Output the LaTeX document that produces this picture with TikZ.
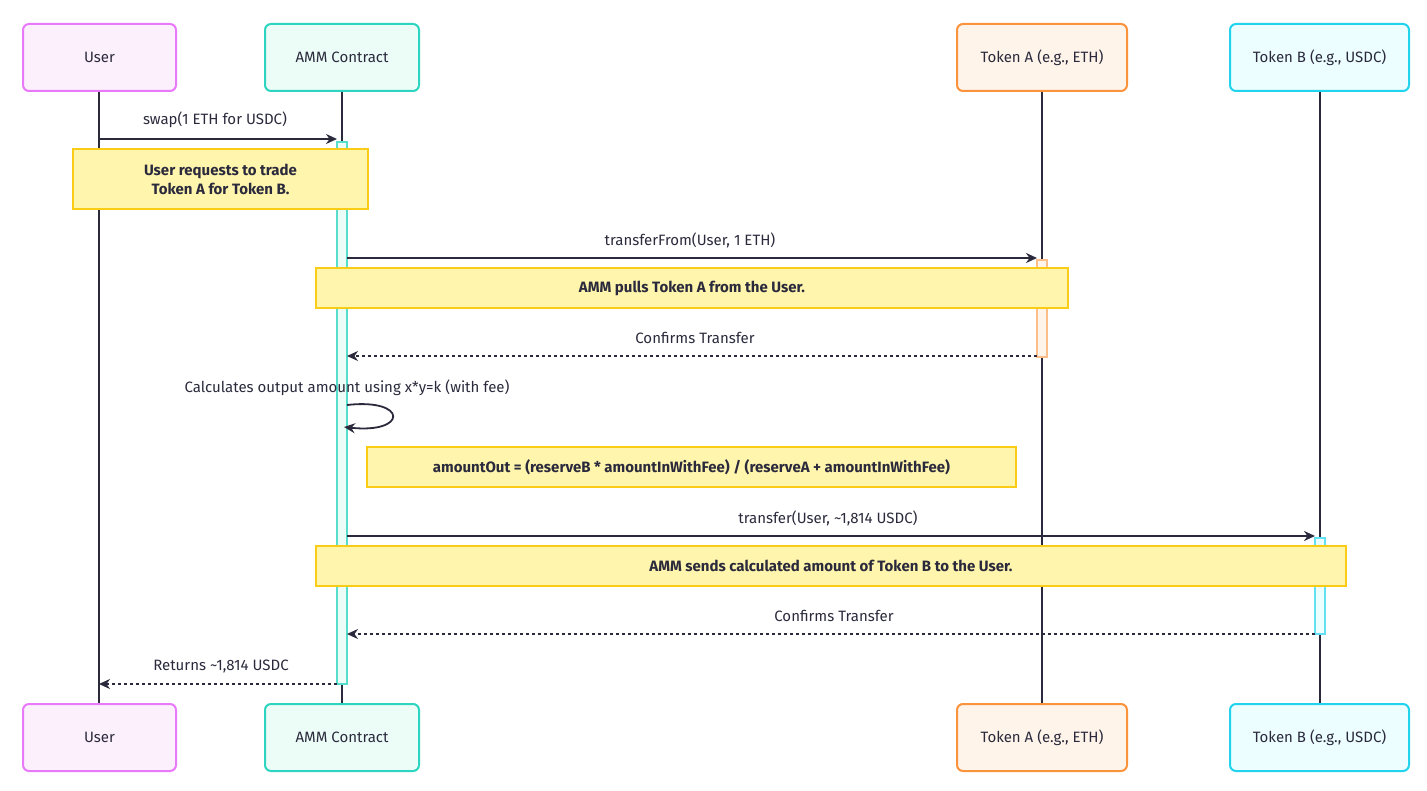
\documentclass[tikz,border=0pt]{standalone}
\usepackage{fontspec}
\setmainfont{Fira Sans}
\usetikzlibrary{arrows.meta,positioning}
\definecolor{userfill}{HTML}{FDF0FD}\definecolor{userdraw}{HTML}{E879F9}
\definecolor{ammfill}{HTML}{ECFDF8}\definecolor{ammdraw}{HTML}{2DD4BF}
\definecolor{tafill}{HTML}{FFF4EA}\definecolor{tadraw}{HTML}{FB923C}
\definecolor{tbfill}{HTML}{ECFEFF}\definecolor{tbdraw}{HTML}{22D3EE}
\definecolor{notefill}{HTML}{FFF5AD}\definecolor{notedraw}{HTML}{FACC15}
\definecolor{ink}{HTML}{2A2A3C}
\begin{document}
\begin{tikzpicture}[
   x=1pt, y=-1pt,
   font=\fontsize{15}{18}\selectfont,
   actor/.style={draw, rounded corners=6pt, line width=2pt, minimum height=67pt, text=ink},
   life/.style={ink, line width=2pt},
   act/.style={draw, line width=1.2pt, minimum width=10pt, inner sep=0pt},
   note/.style={draw=notedraw, fill=notefill, line width=2pt, font=\fontsize{15}{19}\selectfont\bfseries, text=ink, align=center, inner sep=0pt},
   msg/.style={-{Stealth[length=11pt,width=10pt]}, ink, line width=1.8pt},
   reply/.style={msg, dash pattern=on 3pt off 3pt},
   lbl/.style={text=ink}
]
\useasboundingbox (0,0) rectangle (1427,791);
% lifelines
\foreach \x/\n in {99/u, 342/m, 1042/a, 1320/b}
  \draw[life] (\x,91) -- (\x,704);
% participants
\foreach \y/\s in {57.5/t, 737.5/d} {
  \node[actor, draw=userdraw, fill=userfill, minimum width=153pt] (user\s) at (99.5,\y) {User};
  \node[actor, draw=ammdraw, fill=ammfill, minimum width=154pt] (amm\s) at (342,\y) {AMM Contract};
  \node[actor, draw=tadraw, fill=tafill, minimum width=170pt] (tokA\s) at (1042,\y) {Token A (e.g., ETH)};
  \node[actor, draw=tbdraw, fill=tbfill, minimum width=179pt] (tokB\s) at (1319.5,\y) {Token B (e.g., USDC)};
}
% activations
\node[act, draw=ammdraw!80, fill=ammfill, minimum height=542pt] (ammAct) at (342,413) {};
\node[act, draw=tadraw!60, fill=tafill, minimum height=97pt] (tokAAct) at (1042,308.5) {};
\node[act, draw=tbdraw!70, fill=tbfill, minimum height=96pt] (tokBAct) at (1320,586) {};
% endpoints
\coordinate (u1) at (99,139);   \coordinate (m1) at (337,139);
\coordinate (m2) at (347,258);  \coordinate (a2) at (1037,258);
\coordinate (a3) at (1037,356); \coordinate (m3) at (347,356);
\coordinate (m4) at (347,405);  \coordinate (m4b) at (344,427);
\coordinate (m5) at (347,536);  \coordinate (b5) at (1315,536);
\coordinate (b6) at (1315,634); \coordinate (m6) at (347,634);
\coordinate (m7) at (337,684);  \coordinate (u7) at (99,684);
% messages
\draw[msg] (u1) -- (m1);
\node[lbl] (swapLbl) at (215,120) {swap(1 ETH for USDC)};
\node[note, minimum width=295pt, minimum height=60pt] (noteReq) at (220.5,179) {User requests to trade\\Token A for Token B.};
\draw[msg] (m2) -- (a2);
\node[lbl] (pullLbl) at (690,240) {transferFrom(User, 1 ETH)};
\node[note, minimum width=752pt, minimum height=40pt] (notePull) at (692,288) {AMM pulls Token A from the User.};
\draw[reply] (a3) -- (m3);
\node[lbl] (confA) at (695,338) {Confirms Transfer};
\node[lbl] (calcLbl) at (347,388) {Calculates output amount using x*y=k (with fee)};
\draw[msg] (m4) .. controls (408,398) and (408,434) .. (m4b);
\node[note, minimum width=649pt, minimum height=40pt] (noteCalc) at (691.5,467) {amountOut = (reserveB * amountInWithFee) / (reserveA + amountInWithFee)};
\draw[msg] (m5) -- (b5);
\node[lbl] (sendLbl) at (828,518) {transfer(User, \textasciitilde1,814 USDC)};
\node[note, minimum width=1030pt, minimum height=40pt] (noteSend) at (831,566) {AMM sends calculated amount of Token B to the User.};
\draw[reply] (b6) -- (m6);
\node[lbl] (confB) at (834,616) {Confirms Transfer};
\draw[reply] (m7) -- (u7);
\node[lbl] (retLbl) at (221,666) {Returns \textasciitilde1,814 USDC};
\end{tikzpicture}
\end{document}
